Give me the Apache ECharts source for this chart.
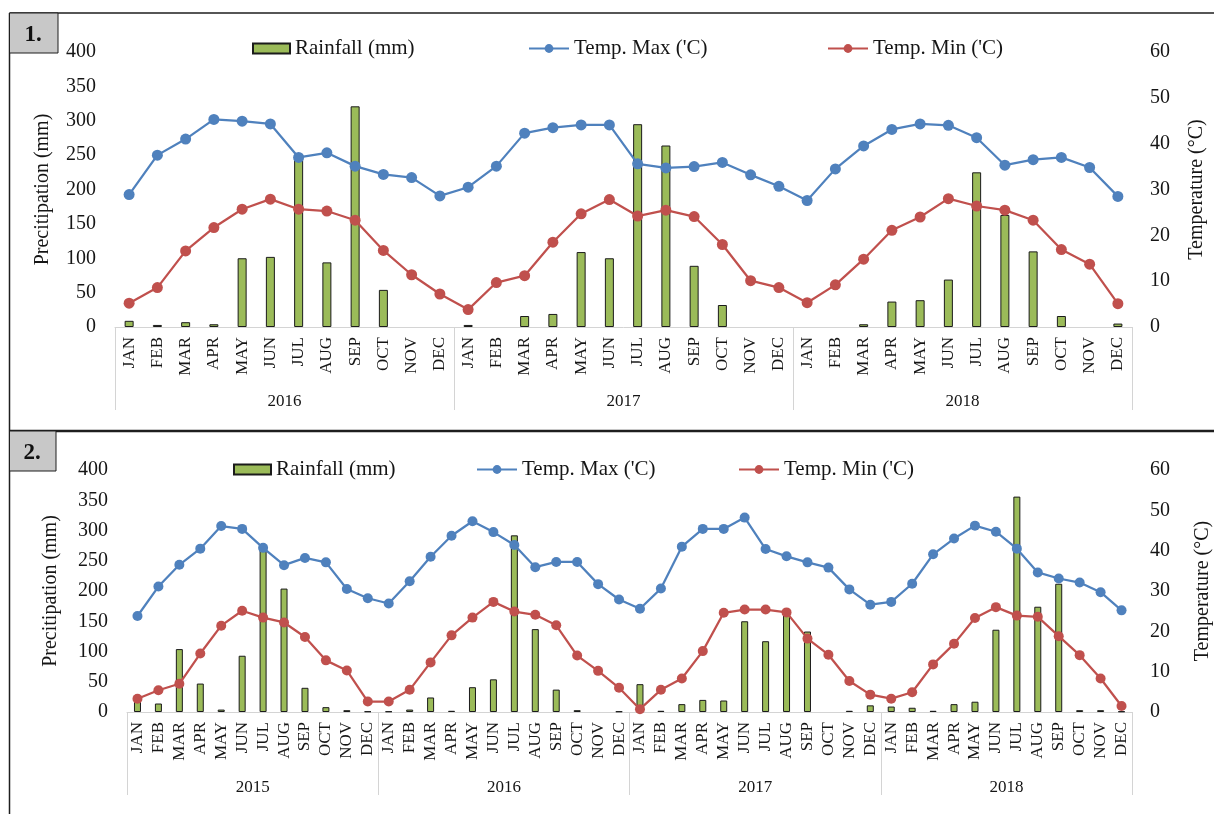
<!DOCTYPE html>
<html>
<head>
<meta charset="utf-8">
<script src="https://cdn.jsdelivr.net/npm/echarts@6/dist/echarts.min.js"></script>
<style>
  html, body { margin: 0; padding: 0; background: #fff; }
  #chart { width: 1214px; height: 814px; }
</style>
</head>
<body>
<div id="chart"></div>
<script>
// Month names used on the lower category axis
const months = ['JAN','FEB','MAR','APR','MAY','JUN','JUL','AUG','SEP','OCT','NOV','DEC'];

// Station 1: 2016-2018
const years1 = ['2016', '2017', '2018'];
const rain1 = [9, 3, 7, 4, 100, 102, 243, 94, 321, 54, 0, 0,
               3, 0, 16, 19, 109, 100, 295, 264, 89, 32, 0, 0,
               0, 0, 4, 37, 39, 69, 225, 163, 110, 16, 0, 5];
const tmax1 = [28.9, 37.5, 41.0, 45.3, 44.9, 44.3, 37.0, 38.0, 35.1, 33.3, 32.6, 28.6,
               30.5, 35.1, 42.3, 43.5, 44.1, 44.1, 35.6, 34.7, 35.0, 35.9, 33.2, 30.7,
               27.6, 34.5, 39.5, 43.1, 44.3, 44.0, 41.3, 35.3, 36.5, 37.0, 34.8, 28.5];
const tmin1 = [5.2, 8.6, 16.6, 21.7, 25.7, 27.9, 25.7, 25.3, 23.3, 16.7, 11.4, 7.2,
               3.8, 9.7, 11.2, 18.5, 24.7, 27.8, 24.2, 25.5, 24.1, 18.0, 10.1, 8.6,
               5.3, 9.2, 14.8, 21.1, 24.0, 28.0, 26.4, 25.5, 23.3, 16.9, 13.7, 5.1];

// Station 2: 2015-2018
const years2 = ['2015', '2016', '2017', '2018'];
const rain2 = [18, 14, 104, 47, 4, 93, 268, 204, 40, 8, 3, 1,
               1, 4, 24, 2, 41, 54, 292, 137, 37, 3, 0, 1,
               46, 2, 13, 20, 19, 150, 117, 163, 133, 0, 2, 11,
               9, 7, 2, 13, 17, 136, 356, 174, 212, 3, 3, 1];
const tmax2 = [23.8, 31.1, 36.5, 40.5, 46.1, 45.4, 40.7, 36.4, 38.2, 37.1, 30.5, 28.2,
               26.9, 32.4, 38.5, 43.7, 47.3, 44.6, 41.4, 35.9, 37.2, 37.2, 31.7, 27.9,
               25.6, 30.6, 41.0, 45.4, 45.4, 48.2, 40.4, 38.6, 37.1, 35.8, 30.4, 26.6,
               27.3, 31.8, 39.1, 43.0, 46.2, 44.7, 40.5, 34.6, 33.1, 32.1, 29.7, 25.2];
const tmin2 = [3.3, 5.4, 7.0, 14.5, 21.4, 25.1, 23.4, 22.2, 18.6, 12.8, 10.3, 2.6,
               2.6, 5.5, 12.3, 19.0, 23.4, 27.3, 24.9, 24.1, 21.5, 14.0, 10.2, 6.0,
               0.7, 5.5, 8.3, 15.1, 24.6, 25.4, 25.4, 24.7, 18.2, 14.2, 7.7, 4.3,
               3.3, 4.9, 11.8, 16.9, 23.3, 26.0, 23.9, 23.6, 18.8, 14.1, 8.3, 1.5];

const SERIF = '"Liberation Serif", "Times New Roman", "DejaVu Serif", serif';
const TXT = '#151515';
const AXIS_GRAY = '#d4d4d4';
const GREEN = '#9bbb59', BLUE = '#4f81bd', RED = '#c0504d';

const option = {
  animation: false,
  backgroundColor: '#fff',
  grid: [], xAxis: [], yAxis: [], series: [], legend: [], graphic: []
};

// Adds one climate panel: rainfall bars on the left axis, min/max temperature on the right axis
function addPanel(p) {
  const gi = option.grid.length;
  const xi = option.xAxis.length;
  const yi = option.yAxis.length;
  const cats = p.years.flatMap(() => months);

  option.grid.push({
    left: p.left, right: 82, top: p.top, height: p.height,
    containLabel: false, outerBoundsMode: 'none'
  });

  option.xAxis.push({
    type: 'category', gridIndex: gi, data: cats, position: 'bottom',
    axisLine: { show: true, lineStyle: { color: AXIS_GRAY, width: 1 } },
    axisTick: { show: false },
    axisLabel: { interval: 0, rotate: 90, margin: 10, fontFamily: SERIF, fontSize: 17, color: TXT },
    splitLine: { show: false }
  });
  option.xAxis.push({
    type: 'category', gridIndex: gi, data: p.years, position: 'bottom', offset: 0,
    axisLine: { show: false },
    axisTick: { show: true, length: 83, interval: 0, lineStyle: { color: AXIS_GRAY, width: 1 } },
    axisLabel: { interval: 0, margin: p.yearMargin, fontFamily: SERIF, fontSize: 17, color: TXT },
    splitLine: { show: false }
  });

  option.yAxis.push({
    type: 'value', gridIndex: gi, position: 'left', min: 0, max: 400, interval: 50,
    name: 'Precitipation (mm)', nameLocation: 'middle', nameGap: p.leftNameGap,
    nameTextStyle: { fontFamily: SERIF, fontSize: 20, color: TXT },
    axisLine: { show: false }, axisTick: { show: false }, splitLine: { show: false },
    axisLabel: { margin: 19, fontFamily: SERIF, fontSize: 20, color: TXT }
  });
  option.yAxis.push({
    type: 'value', gridIndex: gi, position: 'right', min: 0, max: 60, interval: 10,
    name: 'Temperature (°C)', nameLocation: 'middle', nameGap: p.rightNameGap,
    nameTextStyle: { fontFamily: SERIF, fontSize: 20, color: TXT },
    axisLine: { show: false }, axisTick: { show: false }, splitLine: { show: false },
    axisLabel: { margin: 18, fontFamily: SERIF, fontSize: 20, color: TXT }
  });

  option.series.push({
    name: 'Rainfall (mm)', type: 'bar', xAxisIndex: xi, yAxisIndex: yi,
    data: p.rain.map(v => (v === 0 ? '-' : v)),
    barWidth: p.barWidth,
    itemStyle: { color: GREEN, borderColor: '#1b1b1b', borderWidth: 1 }
  });
  option.series.push({
    name: "Temp. Max ('C)", type: 'line', xAxisIndex: xi, yAxisIndex: yi + 1,
    data: p.tmax, symbol: 'circle', symbolSize: p.dot,
    lineStyle: { color: BLUE, width: 2.25 }, itemStyle: { color: BLUE }
  });
  option.series.push({
    name: "Temp. Min ('C)", type: 'line', xAxisIndex: xi, yAxisIndex: yi + 1,
    data: p.tmin, symbol: 'circle', symbolSize: p.dot,
    lineStyle: { color: RED, width: 2.25 }, itemStyle: { color: RED }
  });

  const legText = { fontFamily: SERIF, fontSize: 21, color: TXT };
  option.legend.push({
    data: ['Rainfall (mm)'], left: p.legendX[0], top: p.legendTop, icon: 'rect',
    itemWidth: 37, itemHeight: 10, selectedMode: false, textStyle: legText, padding: 0
  });
  option.legend.push({
    data: ["Temp. Max ('C)"], left: p.legendX[1], top: p.legendTop,
    itemWidth: 40, itemHeight: 11, selectedMode: false, textStyle: legText, padding: 0
  });
  option.legend.push({
    data: ["Temp. Min ('C)"], left: p.legendX[2], top: p.legendTop,
    itemWidth: 40, itemHeight: 11, selectedMode: false, textStyle: legText, padding: 0
  });
}

addPanel({
  years: years1, rain: rain1, tmax: tmax1, tmin: tmin1,
  left: 115, top: 52, height: 275, barWidth: 9, dot: 11,
  yearMargin: 66, leftNameGap: 62, rightNameGap: 55,
  legendX: [252, 528, 827], legendTop: 38
});
addPanel({
  years: years2, rain: rain2, tmax: tmax2, tmin: tmin2,
  left: 127, top: 470, height: 242, barWidth: 7, dot: 10,
  yearMargin: 67, leftNameGap: 66, rightNameGap: 61,
  legendX: [233, 476, 738], legendTop: 459
});

// Panel frames and numbered tags
const FRAME = '#1e1e1e';
option.graphic = [
  { type: 'line', shape: { x1: 9.5, y1: 13, x2: 1214, y2: 13 }, style: { stroke: FRAME, lineWidth: 1.5 } },
  { type: 'line', shape: { x1: 9.5, y1: 13, x2: 9.5, y2: 814 }, style: { stroke: FRAME, lineWidth: 1.5 } },
  { type: 'line', shape: { x1: 9.5, y1: 431, x2: 1214, y2: 431 }, style: { stroke: FRAME, lineWidth: 2.5 } },
  { type: 'rect', shape: { x: 9.5, y: 13, width: 48.5, height: 40 }, style: { fill: '#c8c8c8', stroke: FRAME, lineWidth: 1 } },
  { type: 'text', x: 33, y: 35, style: { text: '1.', fontFamily: SERIF, fontWeight: 'bold', fontSize: 23, fill: '#111', align: 'center', verticalAlign: 'middle' } },
  { type: 'rect', shape: { x: 9.5, y: 431, width: 46.5, height: 40 }, style: { fill: '#c8c8c8', stroke: FRAME, lineWidth: 1 } },
  { type: 'text', x: 32, y: 453, style: { text: '2.', fontFamily: SERIF, fontWeight: 'bold', fontSize: 23, fill: '#111', align: 'center', verticalAlign: 'middle' } }
];

const chart = echarts.init(document.getElementById('chart'), null, { renderer: 'canvas' });
chart.setOption(option);
</script>
</body>
</html>
